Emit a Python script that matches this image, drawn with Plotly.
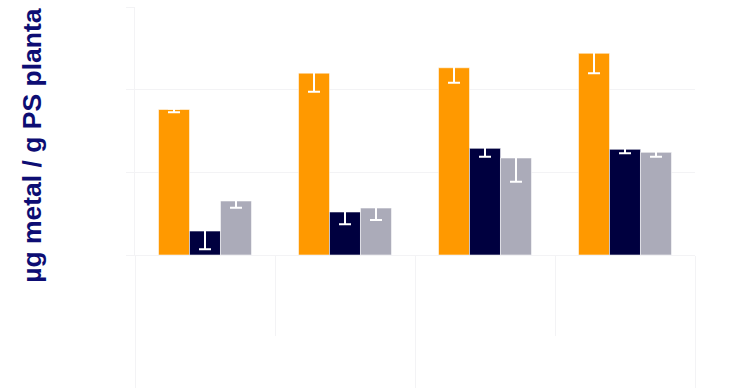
import plotly.graph_objects as go

# Two-level categories: outer group (soil) and inner treatment
outer = ["Suelo 1<br>franco<br>arenoso", "Suelo 1<br>franco<br>arenoso",
         "Suelo 2<br>franco<br>arcilloso", "Suelo 2<br>franco<br>arcilloso"]
inner = ["Control", "Enmienda", "Control", "Enmienda"]

series_names = ["Raíz", "Tallo", "Hoja"]
colors = ["#ff9900", "#00003f", "#ababb9"]

# Mean concentrations per series
raiz = [17.6, 22.0, 22.65, 24.4]
tallo = [2.9, 5.2, 12.9, 12.78]
hoja = [6.53, 5.68, 11.73, 12.42]

# Error bar extents (upper / lower)
raiz_up = [0.12, 1.33, 1.33, 1.49]
raiz_dn = [0.33, 2.26, 1.81, 2.42]
tallo_up = [1.54, 1.12, 0.76, 0.31]
tallo_dn = [2.21, 1.49, 1.02, 0.48]
hoja_up = [0.69, 1.12, 1.66, 0.48]
hoja_dn = [0.81, 1.45, 2.87, 0.53]

values = [raiz, tallo, hoja]
ups = [raiz_up, tallo_up, hoja_up]
dns = [raiz_dn, tallo_dn, hoja_dn]

fig = go.Figure()
for name, col, v, up, dn in zip(series_names, colors, values, ups, dns):
    fig.add_trace(go.Bar(
        x=[outer, inner], y=v, name=name,
        marker=dict(color=col, line=dict(color="rgba(255,255,255,0.55)", width=1)),
        error_y=dict(type="data", symmetric=False, array=up, arrayminus=dn,
                     color="white", thickness=2, width=6),
    ))

light = "#f3f3f5"
fig.update_layout(
    width=733, height=388,
    margin=dict(l=135, r=38, t=7, b=133),
    paper_bgcolor="white", plot_bgcolor="white",
    barmode="group", bargap=0.336, bargroupgap=0,
    showlegend=False,
    font=dict(family="Liberation Sans, Arial, sans-serif"),
)
fig.update_yaxes(
    range=[0, 30], dtick=10, showgrid=True, gridcolor=light,
    showline=True, linecolor=light, linewidth=1,
    ticks="outside", ticklen=8, tickcolor=light,
    showticklabels=False, zeroline=False,
)
fig.update_xaxes(
    type="multicategory", showgrid=False, automargin=False,
    showline=True, linecolor=light,
    ticks="outside", tickson="boundaries", ticklen=80, tickcolor=light,
    showdividers=True, dividercolor=light, dividerwidth=1,
    tickfont=dict(color="rgba(255,255,255,0)", size=26),
)

fig.add_annotation(
    text="<b>µg metal / g PS planta</b>", textangle=-90,
    xref="paper", yref="paper", x=-0.184, y=0.444,
    xanchor="center", yanchor="middle", showarrow=False,
    font=dict(size=26.5, color="#0d0d73"),
)

fig.write_html("out.html")
